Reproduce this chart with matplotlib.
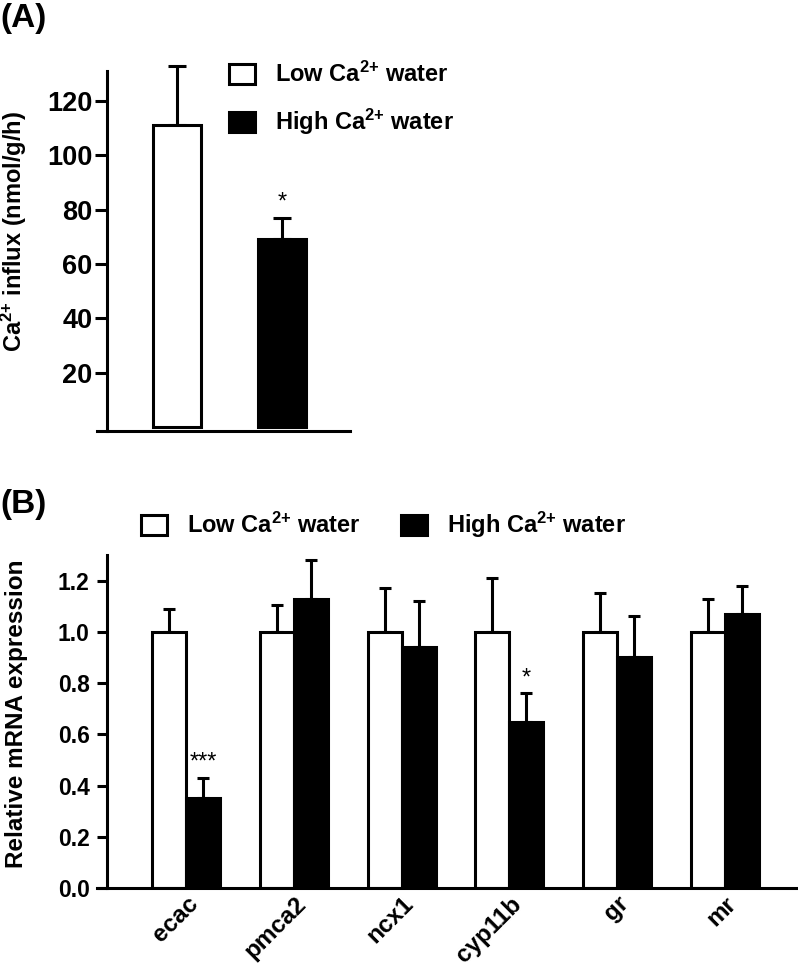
import numpy as np
import matplotlib
matplotlib.use('Agg')
import matplotlib.pyplot as plt
from matplotlib.patches import Patch
from matplotlib.transforms import ScaledTranslation

plt.rcParams['font.family'] = ['Liberation Sans', 'DejaVu Sans']
plt.rcParams['font.weight'] = 'bold'
plt.rcParams['axes.labelweight'] = 'bold'
plt.rcParams['mathtext.fontset'] = 'custom'
plt.rcParams['mathtext.rm'] = 'Liberation Sans:bold'
plt.rcParams['mathtext.it'] = 'Liberation Sans:bold'
plt.rcParams['mathtext.bf'] = 'Liberation Sans:bold'

# panel A: Ca2+ influx
influx_groups = ['Low', 'High']
influx_mean = [111, 69]
influx_sem = [22, 8]
influx_sig = ['', '*']
influx_ticks = [20, 40, 60, 80, 100, 120]

# panel B: relative mRNA expression
genes = ['ecac', 'pmca2', 'ncx1', 'cyp11b', 'gr', 'mr']
low_mean = [1.00, 1.00, 1.00, 1.00, 1.00, 1.00]
low_sem = [0.09, 0.105, 0.17, 0.21, 0.15, 0.13]
high_mean = [0.35, 1.13, 0.94, 0.65, 0.90, 1.07]
high_sem = [0.08, 0.15, 0.18, 0.11, 0.16, 0.11]
high_sig = ['***', '', '', '*', '', '']
mrna_ticks = [0.0, 0.2, 0.4, 0.6, 0.8, 1.0, 1.2]

sup = '$^{2{+}}$'
low_label = 'Low Ca' + sup + ' water'
high_label = 'High Ca' + sup + ' water'

LW = 2.2

fig = plt.figure(figsize=(7.98, 9.66), dpi=100)

# ---------- (A) ----------
axA = fig.add_axes([97 / 798, 1 - 431 / 966, 253 / 798, 360 / 966])
xa = np.arange(len(influx_groups))
colors = ['white', 'black']
axA.errorbar(xa, influx_mean, yerr=[np.zeros(len(xa)), influx_sem], fmt='none',
             ecolor='black', elinewidth=LW, capsize=6.8, capthick=LW, zorder=1,
             clip_on=False)
axA.bar(xa, influx_mean, width=0.457, color=colors, edgecolor='black',
        linewidth=LW, zorder=2)
for x, m, s, t in zip(xa, influx_mean, influx_sem, influx_sig):
    if t:
        axA.text(x, m + s + 3.5, t, ha='center', va='baseline', fontsize=17,
                 fontweight='normal')
axA.set_xlim(-0.762, 1.648)
axA.set_ylim(-1.5, 131)
axA.set_xticks([])
axA.set_yticks(influx_ticks)
axA.tick_params(axis='y', labelsize=19.5, width=LW, length=8.5, pad=2)
for side in ['top', 'right']:
    axA.spines[side].set_visible(False)
axA.spines['left'].set_position(('axes', 10 / 253))
axA.spines['left'].set_linewidth(LW)
axA.spines['bottom'].set_linewidth(LW)
axA.set_ylabel('Ca' + sup + ' influx (nmol/g/h)', fontsize=17)
axA.yaxis.set_label_coords(-0.27, 0.553)

handles = [Patch(facecolor='white', edgecolor='black', linewidth=LW),
           Patch(facecolor='black', edgecolor='black', linewidth=LW)]
fig.legend(handles, [low_label, high_label], loc='upper left',
           bbox_to_anchor=(229 / 798, 1 - 62 / 966), frameon=False, fontsize=17,
           handlelength=1.1, handleheight=0.95, handletextpad=0.85,
           labelspacing=0.85, borderpad=0, borderaxespad=0)
fig.text(0.0, 1 - 3 / 966, '(A)', fontsize=24, va='top', ha='left')

# ---------- (B) ----------
axB = fig.add_axes([97 / 798, 78 / 966, 700 / 798, 333 / 966])
xb = np.arange(len(genes))
w = 0.316
axB.errorbar(xb - w / 2, low_mean, yerr=[np.zeros(len(xb)), low_sem], fmt='none',
             ecolor='black', elinewidth=LW, capsize=4, capthick=LW, zorder=1)
axB.errorbar(xb + w / 2, high_mean, yerr=[np.zeros(len(xb)), high_sem], fmt='none',
             ecolor='black', elinewidth=LW, capsize=4, capthick=LW, zorder=1)
axB.bar(xb - w / 2, low_mean, width=w, color='white', edgecolor='black',
        linewidth=LW, zorder=2)
axB.bar(xb + w / 2, high_mean, width=w, color='black', edgecolor='black',
        linewidth=LW, zorder=2)
for x, m, s, t in zip(xb, high_mean, high_sem, high_sig):
    if t:
        axB.text(x + w / 2, m + s + 0.035, t, ha='center', va='baseline',
                 fontsize=17, fontweight='normal')
axB.set_xlim(-0.83, 5.67)
axB.set_ylim(0, 1.3)
axB.set_yticks(mrna_ticks)
axB.set_yticklabels(['%.1f' % v for v in mrna_ticks])
axB.set_xticks(xb)
axB.set_xticklabels(genes, rotation=45, ha='right', rotation_mode='anchor')
shift = ScaledTranslation(-4 / 100, 0, fig.dpi_scale_trans)
for lab in axB.get_xticklabels():
    lab.set_transform(lab.get_transform() + shift)
axB.tick_params(axis='y', labelsize=16.5, width=LW, length=7.5, pad=5)
axB.tick_params(axis='x', labelsize=17.5, length=0, pad=3)
for side in ['top', 'right']:
    axB.spines[side].set_visible(False)
axB.spines['left'].set_position(('axes', 10 / 700))
axB.spines['left'].set_linewidth(LW)
axB.spines['bottom'].set_linewidth(LW)
axB.set_ylabel('Relative mRNA expression', fontsize=17.5)
axB.yaxis.set_label_coords(-0.098, 0.522)

fig.legend(handles, [low_label, high_label], loc='upper left', ncol=2,
           bbox_to_anchor=(141 / 798, 1 - 510 / 966), frameon=False, fontsize=17,
           handlelength=1.1, handleheight=0.95, handletextpad=0.85,
           columnspacing=1.7, borderpad=0, borderaxespad=0)
fig.text(0.0, 1 - 489 / 966, '(B)', fontsize=24, va='top', ha='left')

fig.savefig('out.png', dpi=100)
